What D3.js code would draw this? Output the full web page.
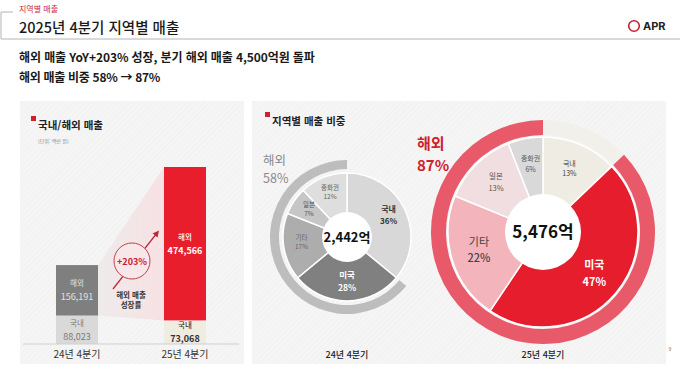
<!DOCTYPE html>
<html lang="ko">
<head>
<meta charset="utf-8" />
<style>
    body { margin: 0; background: #fff; }
    svg { display: block; font-family: "Noto Sans CJK KR", "Noto Sans", sans-serif; }
    .frame { stroke: #b4b4b4; stroke-width: 1px; fill: none; }
    .slice { stroke: #fff; stroke-width: 1.5px; }
</style>
</head>
<body>
<svg width="680" height="373"></svg>
<script src="https://cdn.jsdelivr.net/npm/d3@7"></script>
<script>

    // ---- data ----
    var barCategories = ["24년 4분기", "25년 4분기"];
    var domesticSales = [88023, 73068];      // 단위: 백만 원
    var overseasSales = [156191, 474566];
    var growthLabel = "+203%";

    var regions = ["국내", "미국", "기타", "일본", "중화권"];
    var share24 = [36, 28, 17, 7, 12];
    var share25 = [13, 47, 22, 13, 6];
    var totalLabels = ["2,442억", "5,476억"];
    var overseasShare = [58, 87];

    var svg = d3.select("svg");
    var fmt = d3.format(",");

    // ---- defs: hatch + gradient + arrow ----
    var defs = svg.append("defs");
    var hatch = defs.append("pattern")
        .attr("id", "hatch")
        .attr("width", 4).attr("height", 4)
        .attr("patternUnits", "userSpaceOnUse")
        .attr("patternTransform", "rotate(45)");
    hatch.append("rect").attr("width", 4).attr("height", 4).attr("fill", "#f5f5f5");
    hatch.append("line").attr("x1", 0).attr("y1", 0).attr("x2", 0).attr("y2", 4)
        .attr("stroke", "#eeeeee").attr("stroke-width", 1);

    var grad = defs.append("linearGradient").attr("id", "wedge");
    grad.append("stop").attr("offset", "0%").attr("stop-color", "#eeebeb");
    grad.append("stop").attr("offset", "100%").attr("stop-color", "#f7e1e3");

    defs.append("marker")
        .attr("id", "arrowhead")
        .attr("viewBox", "0 0 10 10")
        .attr("refX", 5).attr("refY", 5)
        .attr("markerWidth", 5).attr("markerHeight", 5)
        .attr("orient", "auto")
        .append("path")
        .attr("d", "M 0 0 L 10 5 L 0 10 z")
        .attr("fill", "#c0283a");

    // ---- header ----
    svg.append("path").attr("class", "frame").attr("d", "M13,12 H1 V39 H680");
    svg.append("text").attr("x", 19).attr("y", 12)
        .attr("font-size", 8).attr("fill", "#d0283a").text("지역별 매출");
    svg.append("text").attr("x", 19).attr("y", 33)
        .attr("font-size", 14.5).attr("font-weight", 500).attr("fill", "#1a1a1a")
        .text("2025년 4분기 지역별 매출");

    svg.append("circle").attr("cx", 634).attr("cy", 26).attr("r", 5.3)
        .attr("fill", "none").attr("stroke", "#c8202f").attr("stroke-width", 1.6);
    svg.append("text").attr("x", 643).attr("y", 30)
        .attr("font-size", 11).attr("font-weight", 700).attr("fill", "#222")
        .attr("font-family", "Inter, sans-serif").text("APR");

    svg.append("text").attr("x", 19).attr("y", 62)
        .attr("font-size", 12).attr("font-weight", 700).attr("fill", "#1a1a1a")
        .attr("letter-spacing", -0.1)
        .text("해외 매출 YoY+203% 성장, 분기 해외 매출 4,500억원 돌파");
    svg.append("text").attr("x", 19).attr("y", 82)
        .attr("font-size", 12).attr("font-weight", 700).attr("fill", "#1a1a1a")
        .attr("letter-spacing", -0.3)
        .text("해외 매출 비중 58% → 87%");

    // ---- panels ----
    svg.append("rect").attr("x", 20).attr("y", 101).attr("width", 224).attr("height", 263)
        .attr("fill", "url(#hatch)");
    svg.append("rect").attr("x", 252).attr("y", 101).attr("width", 414).attr("height", 263)
        .attr("fill", "url(#hatch)");

    function panelTitle(x, y, label) {
        svg.append("rect").attr("x", x).attr("y", y - 9).attr("width", 5).attr("height", 5)
            .attr("fill", "#d0202f");
        svg.append("text").attr("x", x + 7).attr("y", y + 4)
            .attr("font-size", 10.5).attr("font-weight", 700).attr("fill", "#222").text(label);
    }
    panelTitle(31, 125, "국내/해외 매출");
    panelTitle(265, 121, "지역별 매출 비중");
    svg.append("text").attr("x", 38).attr("y", 143)
        .attr("font-size", 5).attr("fill", "#888").text("(단위: 백만 원)");

    // ---- bar chart ----
    var totals = domesticSales.map(function(d, i) { return d + overseasSales[i]; });

    var x = d3.scaleBand()
        .domain(barCategories)
        .range([23, 239])
        .paddingInner(0.611)
        .paddingOuter(0.3055);

    var y = d3.scaleLinear()
        .domain([0, d3.max(totals)])
        .range([344, 167]);

    var bw = x.bandwidth();
    var c0 = barCategories[0], c1 = barCategories[1];

    // growth wedge
    svg.append("path")
        .attr("fill", "url(#wedge)")
        .attr("d", "M" + (x(c0) + bw) + "," + y(totals[0]) +
            "L" + x(c1) + "," + y(totals[1]) +
            "L" + x(c1) + "," + y(domesticSales[1]) +
            "L" + (x(c0) + bw) + "," + y(domesticSales[0]) + "Z");

    var barColors = {
        domestic: ["#d9d9d9", "#efece2"],
        overseas: ["#7f7f7f", "#e81e2d"]
    };

    barCategories.forEach(function(c, i) {
        svg.append("rect")
            .attr("x", x(c)).attr("width", bw)
            .attr("y", y(domesticSales[i])).attr("height", y(0) - y(domesticSales[i]))
            .attr("fill", barColors.domestic[i]);
        svg.append("rect")
            .attr("x", x(c)).attr("width", bw)
            .attr("y", y(totals[i])).attr("height", y(domesticSales[i]) - y(totals[i]))
            .attr("fill", barColors.overseas[i]);
    });

    // baseline axis
    var xAxis = svg.append("g")
        .attr("transform", "translate(0," + y(0) + ")")
        .call(d3.axisBottom(x).tickSize(0).tickPadding(7));
    xAxis.select(".domain").attr("stroke", "#cfcfcf").attr("d", "M23,0H239");
    xAxis.selectAll("text")
        .attr("font-size", 10).attr("fill", "#333")
        .attr("font-family", "'Noto Sans CJK KR', sans-serif");

    function barLabel(cx, mid, name, value, color, bold) {
        svg.append("text").attr("x", cx).attr("y", mid - 4)
            .attr("text-anchor", "middle").attr("font-size", 7.5)
            .attr("font-weight", bold ? 500 : 400)
            .attr("fill", color).text(name);
        svg.append("text").attr("x", cx).attr("y", mid + 10)
            .attr("text-anchor", "middle").attr("font-size", 9)
            .attr("font-weight", bold ? 700 : 400)
            .attr("fill", color).text(fmt(value));
    }
    var mid0 = x(c0) + bw / 2, mid1 = x(c1) + bw / 2;
    barLabel(mid0, (y(totals[0]) + y(domesticSales[0])) / 2, "해외", overseasSales[0], "#e2e2e2", false);
    barLabel(mid0, (y(domesticSales[0]) + y(0)) / 2, "국내", domesticSales[0], "#7a7a7a", false);
    barLabel(mid1, (y(totals[1]) + y(domesticSales[1])) / 2, "해외", overseasSales[1], "#ffffff", true);
    barLabel(mid1, (y(domesticSales[1]) + y(0)) / 2, "국내", domesticSales[1], "#333333", true);

    // growth arrow & bubble
    svg.append("line")
        .attr("x1", 113).attr("y1", 289).attr("x2", 157).attr("y2", 233)
        .attr("stroke", "#c0283a").attr("stroke-width", 1.3)
        .attr("marker-end", "url(#arrowhead)");
    svg.append("circle").attr("cx", 132).attr("cy", 261).attr("r", 18)
        .attr("fill", "#f7e7e9").attr("stroke", "#c4404e").attr("stroke-width", 1);
    svg.append("text").attr("x", 132).attr("y", 264.5).attr("text-anchor", "middle")
        .attr("font-size", 9).attr("font-weight", 700).attr("fill", "#c8202f").text(growthLabel);
    svg.append("text").attr("x", 131).attr("y", 298).attr("text-anchor", "middle")
        .attr("font-size", 7.5).attr("font-weight", 700).attr("fill", "#333").text("해외 매출");
    svg.append("text").attr("x", 131).attr("y", 308).attr("text-anchor", "middle")
        .attr("font-size", 7.5).attr("font-weight", 700).attr("fill", "#333").text("성장률");

    // ---- donuts ----
    var pie = d3.pie().sort(null).value(function(d) { return d; });

    var donuts = [
        {
            shares: share24, cx: 347, cy: 237, hole: 25, r: 64, ringIn: 68, ringOut: 77, labelR: 46,
            colors: ["#d8d8d8", "#808080", "#adadad", "#c6c6c6", "#dedede"],
            ring: "#bdbdbd", ringDomestic: "none",
            textColors: ["#333", "#fff", "#666", "#555", "#666"],
            textSizes: [8, 8.5, 6.5, 6.5, 6.5], textWeights: [700, 700, 400, 400, 400],
            totalSize: 13, overseasColor: "#8a8a8a", overseasSize: 12.5, overseasWeight: 400,
            overseasX: 263, overseasY: 164.5, overseasGap: 18.5
        },
        {
            shares: share25, cx: 543, cy: 232, hole: 38, r: 95, ringIn: 97, ringOut: 112, labelR: 67,
            colors: ["#efede3", "#e61d2d", "#f3b4bc", "#f1dee1", "#d9d9d9"],
            ring: "#e85a69", ringDomestic: "#f2f0ea",
            textColors: ["#444", "#fff", "#444", "#555", "#555"],
            textSizes: [7, 11, 11, 7.5, 7], textWeights: [400, 700, 500, 400, 400],
            totalSize: 17, overseasColor: "#d0202f", overseasSize: 15, overseasWeight: 700,
            overseasX: 417, overseasY: 149, overseasGap: 22
        }
    ];

    donuts.forEach(function(dn, k) {
        var g = svg.append("g").attr("transform", "translate(" + dn.cx + "," + dn.cy + ")");
        var arcs = pie(dn.shares);
        var arc = d3.arc().innerRadius(0).outerRadius(dn.r);
        var ringArc = d3.arc().innerRadius(dn.ringIn).outerRadius(dn.ringOut);

        // outer ring: domestic part + overseas part
        if (dn.ringDomestic !== "none") {
            g.append("path")
                .attr("fill", dn.ringDomestic)
                .attr("d", ringArc({ startAngle: 0, endAngle: arcs[0].endAngle }));
        }
        g.append("path")
            .attr("fill", dn.ring)
            .attr("d", ringArc({ startAngle: arcs[0].endAngle, endAngle: 2 * Math.PI }));

        g.selectAll(".slice")
            .data(arcs)
            .enter()
            .append("path")
            .attr("class", "slice")
            .attr("fill", function(d, i) { return dn.colors[i]; })
            .attr("d", arc);

        g.append("circle").attr("r", dn.hole).attr("fill", "#fff");
        g.append("text").attr("text-anchor", "middle").attr("y", dn.totalSize * 0.36)
            .attr("font-size", dn.totalSize).attr("font-weight", 700).attr("fill", "#111")
            .text(totalLabels[k]);

        var labelArc = d3.arc().innerRadius(dn.labelR).outerRadius(dn.labelR);
        arcs.forEach(function(d, i) {
            var p = labelArc.centroid(d);
            var fs = dn.textSizes[i];
            var t = g.append("text").attr("text-anchor", "middle")
                .attr("fill", dn.textColors[i]).attr("font-size", fs);
            t.append("tspan").attr("x", p[0]).attr("y", p[1] - 3 - fs * 0.25)
                .attr("font-weight", dn.textWeights[i] === 700 ? 700 : 400)
                .text(regions[i]);
            t.append("tspan").attr("x", p[0]).attr("y", p[1] - 3 + fs * 1.25)
                .attr("font-weight", dn.textWeights[i]).text(d.data + "%");
        });

        // "해외 xx%" label as one two-line text
        var ov = svg.append("text")
            .attr("font-size", dn.overseasSize).attr("font-weight", dn.overseasWeight)
            .attr("fill", dn.overseasColor);
        ov.append("tspan").attr("x", dn.overseasX).attr("y", dn.overseasY).text("해외");
        ov.append("tspan").attr("x", dn.overseasX).attr("y", dn.overseasY + dn.overseasGap)
            .text(overseasShare[k] + "%");

        svg.append("text").attr("x", dn.cx).attr("y", 358).attr("text-anchor", "middle")
            .attr("font-size", 9).attr("font-weight", 500).attr("fill", "#222")
            .text(barCategories[k]);
    });

    svg.append("text").attr("x", 670).attr("y", 351).attr("text-anchor", "middle")
        .attr("font-size", 5).attr("fill", "#666").text("9");

</script>
</body>
</html>
